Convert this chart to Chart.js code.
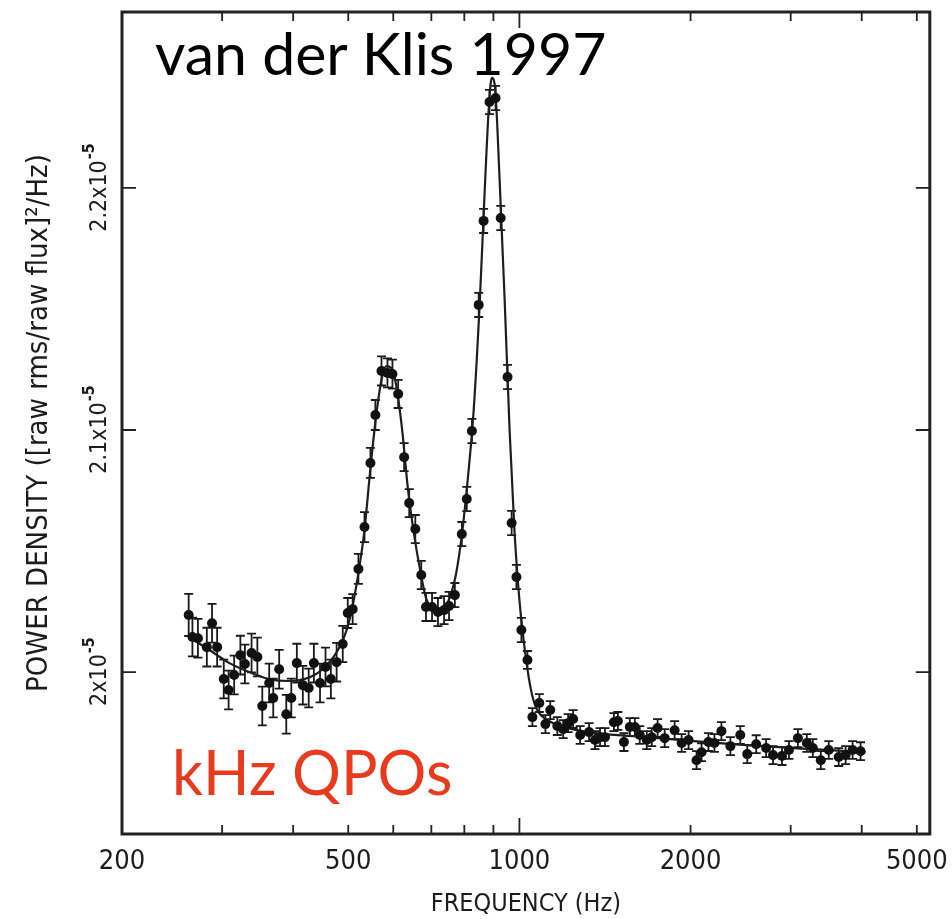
<!DOCTYPE html>
<html><head><meta charset="utf-8">
<script src="https://cdn.jsdelivr.net/npm/chart.js@4.4.1/dist/chart.umd.min.js"></script>
<style>
html,body{margin:0;padding:0;background:#fff;}
#wrap{position:relative;width:952px;height:919px;overflow:hidden;}
#c{position:absolute;left:0;top:0;}
.note{position:absolute;font-family:Lato,'Open Sans',sans-serif;line-height:1;white-space:nowrap;}
#t1{left:155px;top:23px;color:#000;font-size:59px;}
#t2{left:172px;top:741px;color:#ea3a1e;font-size:61px;}
</style></head><body>
<div id="wrap"><canvas id="c" width="952" height="919"></canvas>
<div class="note" id="t1">van der Klis 1997</div>
<div class="note" id="t2">kHz QPOs</div></div>
<script>
// Data. Power density in units of 1e-5 (rms/mean)^2/Hz
const frequencyHz = [262,266,272,282,288,294,302,308,315,323,329,338,346,353,363,369,378,389,397,406,
  416,426,435,446,456,466,477,489,499,509,521,534,547,558,572,586,598,612,627,640,
  656,672,685,702,719,737,752,770,792,808,825,848,865,886,908,927,953,969,988,1008,
  1033,1054,1084,1111,1133,1166,1194,1218,1243,1279,1326,1358,1386,1414,1466,1490,1527,1564,1596,1628,
  1675,1709,1750,1801,1875,1929,1984,2049,2091,2150,2203,2266,2350,2446,2516,2609,2716,2793,2896,2979,
  3089,3203,3281,3389,3500,3644,3748,3855,3981];
const powerDensity = [2.0236,2.0145,2.0140,2.0103,2.0202,2.0103,1.9971,1.9926,1.9988,2.0070,2.0033,2.0079,2.0062,1.9860,1.9955,1.9893,2.0012,1.9826,1.9893,2.0037,
  1.9946,1.9934,2.0037,1.9955,2.0021,1.9971,2.0041,2.0116,2.0244,2.0260,2.0426,2.0599,2.0864,2.1062,2.1244,2.1236,2.1231,2.1149,2.0888,2.0698,
  2.0591,2.0401,2.0269,2.0269,2.0248,2.0256,2.0273,2.0318,2.0570,2.0715,2.0996,2.1517,2.1864,2.2355,2.2372,2.1876,2.1219,2.0616,2.0393,2.0174,
  2.0050,1.9814,1.9872,1.9785,1.9843,1.9777,1.9764,1.9789,1.9806,1.9740,1.9752,1.9719,1.9731,1.9731,1.9793,1.9798,1.9711,1.9773,1.9773,1.9740,
  1.9719,1.9731,1.9769,1.9727,1.9760,1.9707,1.9719,1.9636,1.9669,1.9711,1.9707,1.9756,1.9694,1.9740,1.9661,1.9702,1.9686,1.9657,1.9653,1.9678,
  1.9727,1.9707,1.9686,1.9636,1.9678,1.9649,1.9657,1.9678,1.9673];
const powerError = [0.0087,0.0080,0.0080,0.0080,0.0080,0.0080,0.0080,0.0080,0.0080,0.0080,0.0080,0.0080,0.0080,0.0080,0.0080,0.0080,0.0080,0.0080,0.0080,0.0080,
  0.0080,0.0080,0.0080,0.0080,0.0080,0.0080,0.0080,0.0075,0.0062,0.0062,0.0062,0.0062,0.0062,0.0062,0.0060,0.0060,0.0060,0.0058,0.0058,0.0058,
  0.0058,0.0058,0.0058,0.0058,0.0058,0.0058,0.0058,0.0050,0.0050,0.0050,0.0050,0.0050,0.0050,0.0050,0.0050,0.0050,0.0050,0.0050,0.0050,0.0050,
  0.0037,0.0037,0.0037,0.0037,0.0037,0.0037,0.0037,0.0037,0.0037,0.0037,0.0037,0.0037,0.0037,0.0037,0.0037,0.0037,0.0037,0.0037,0.0037,0.0037,
  0.0037,0.0037,0.0037,0.0037,0.0037,0.0037,0.0037,0.0037,0.0037,0.0037,0.0037,0.0037,0.0037,0.0037,0.0037,0.0037,0.0037,0.0037,0.0037,0.0037,
  0.0037,0.0037,0.0037,0.0037,0.0037,0.0037,0.0037,0.0037,0.0037];
// Model curve (two Lorentzians + continuum)
const fitFrequencyHz = [262,285,309,335,363,393,418,444,471,491,505,521,534,547,560,572,583,595,607,622,
  637,653,669,685,702,719,737,755,773,792,811,831,852,869,883,894,905,923,942,961,
  980,1000,1025,1050,1075,1120,1264,1675,2506,4062];
const fitPower = [2.0145,2.0091,2.0037,2.0000,1.9971,1.9963,1.9971,2.0000,2.0062,2.0140,2.0236,2.0409,2.0587,2.0843,2.1062,2.1207,2.1264,2.1256,2.1186,2.1000,
  2.0752,2.0566,2.0421,2.0306,2.0264,2.0248,2.0264,2.0310,2.0401,2.0566,2.0793,2.1083,2.1537,2.1992,2.2322,2.2455,2.2426,2.2033,2.1537,2.1000,
  2.0587,2.0298,2.0070,1.9917,1.9843,1.9802,1.9760,1.9731,1.9698,1.9669];
const xTickValues = [200,300,400,500,600,700,800,900,1000,2000,3000,4000,5000];
const xTickLabels = {200:'200',500:'500',1000:'1000',2000:'2000',5000:'5000'};
const xLongTicks = [1000];
const yTickValues = [2.0,2.1,2.2];
const yTickMantissas = ['2','2.1','2.2'];
const yTickExponent = '-5';

const AXFONT = "'Liberation Sans Narrow','DejaVu Sans Condensed','Liberation Sans',sans-serif";
const INK = '#1c1c1c';

const framePlugin = {
  id: 'frame',
  beforeDatasetsDraw(chart) {
    const ctx = chart.ctx, xs = chart.scales.x, ys = chart.scales.y;
    ctx.save();
    ctx.strokeStyle = '#1a1a1a';
    ctx.lineWidth = 1.8;
    for (let i = 0; i < frequencyHz.length; i++) {
      const x = xs.getPixelForValue(frequencyHz[i]);
      const y1 = ys.getPixelForValue(powerDensity[i] - powerError[i]);
      const y2 = ys.getPixelForValue(powerDensity[i] + powerError[i]);
      ctx.beginPath();
      ctx.moveTo(x, y1); ctx.lineTo(x, y2);
      ctx.moveTo(x - 4.5, y1); ctx.lineTo(x + 4.5, y1);
      ctx.moveTo(x - 4.5, y2); ctx.lineTo(x + 4.5, y2);
      ctx.stroke();
    }
    ctx.restore();
  },
  afterDraw(chart) {
    const ctx = chart.ctx, a = chart.chartArea, xs = chart.scales.x, ys = chart.scales.y;
    ctx.save();
    ctx.strokeStyle = '#222';
    ctx.lineWidth = 3;
    ctx.strokeRect(a.left, a.top, a.right - a.left, a.bottom - a.top);
    ctx.lineWidth = 1.8;
    ctx.beginPath();
    xTickValues.forEach(v => {
      const x = xs.getPixelForValue(v);
      const len = xLongTicks.includes(v) ? 16 : 9;
      ctx.moveTo(x, a.bottom); ctx.lineTo(x, a.bottom - len);
      ctx.moveTo(x, a.top); ctx.lineTo(x, a.top + len);
    });
    yTickValues.forEach(v => {
      const y = ys.getPixelForValue(v);
      ctx.moveTo(a.left, y); ctx.lineTo(a.left + 14, y);
      ctx.moveTo(a.right, y); ctx.lineTo(a.right - 14, y);
    });
    ctx.stroke();
    // rotated y tick labels with superscript exponent
    ctx.fillStyle = INK;
    yTickValues.forEach((v, i) => {
      const y = ys.getPixelForValue(v);
      const main = yTickMantissas[i] + 'x10';
      ctx.save();
      ctx.translate(a.left - 24, y);
      ctx.rotate(-Math.PI / 2);
      ctx.font = '23px ' + AXFONT;
      const w1 = ctx.measureText(main).width;
      ctx.font = 'bold 16px ' + AXFONT;
      const w2 = ctx.measureText(yTickExponent).width;
      const start = -(w1 + w2) / 2;
      ctx.textBaseline = 'alphabetic';
      ctx.textAlign = 'left';
      ctx.font = '23px ' + AXFONT;
      ctx.fillText(main, start, 8);
      ctx.font = 'bold 16px ' + AXFONT;
      ctx.fillText(yTickExponent, start + w1 + 1, -4);
      ctx.restore();
    });
    ctx.restore();
  }
};

new Chart(document.getElementById('c'), {
  type: 'line',
  data: {
    datasets: [
      {
        label: 'model',
        data: fitFrequencyHz.map((f, i) => ({x: f, y: fitPower[i]})),
        borderColor: '#1e1e1e', borderWidth: 2.2, pointRadius: 0,
        cubicInterpolationMode: 'monotone', fill: false, order: 2
      },
      {
        label: 'data',
        data: frequencyHz.map((f, i) => ({x: f, y: powerDensity[i]})),
        showLine: false, pointRadius: 5, pointBackgroundColor: '#111',
        pointBorderColor: '#111', pointBorderWidth: 0, order: 1
      }
    ]
  },
  options: {
    responsive: false, animation: false,
    layout: {padding: {left: 0, right: 17, top: 12, bottom: 0}},
    plugins: {legend: {display: false}, tooltip: {enabled: false}},
    scales: {
      x: {
        type: 'logarithmic', min: 200, max: 5270, position: 'bottom',
        afterBuildTicks: s => { s.ticks = xTickValues.map(v => ({value: v})); },
        afterFit: s => { s.height = 85; },
        grid: {display: false}, border: {display: false},
        ticks: {autoSkip: false, maxRotation: 0, minRotation: 0, padding: 4, color: INK,
          font: {family: AXFONT, size: 27}, callback: v => xTickLabels[v] || ''},
        title: {display: true, text: 'FREQUENCY (Hz)', color: INK,
          font: {family: AXFONT, size: 25}, padding: {top: 0, bottom: 0}}
      },
      y: {
        type: 'linear', min: 1.9331, max: 2.2727,
        afterBuildTicks: s => { s.ticks = yTickValues.map(v => ({value: v})); },
        afterFit: s => { s.width = 122; },
        grid: {display: false}, border: {display: false},
        ticks: {display: false},
        title: {display: true, text: 'POWER DENSITY ([raw rms/raw flux]²/Hz)', color: INK,
          font: {family: AXFONT, size: 29}, padding: {top: 22, bottom: 0}}
      }
    }
  },
  plugins: [framePlugin]
});
</script>
</body></html>
